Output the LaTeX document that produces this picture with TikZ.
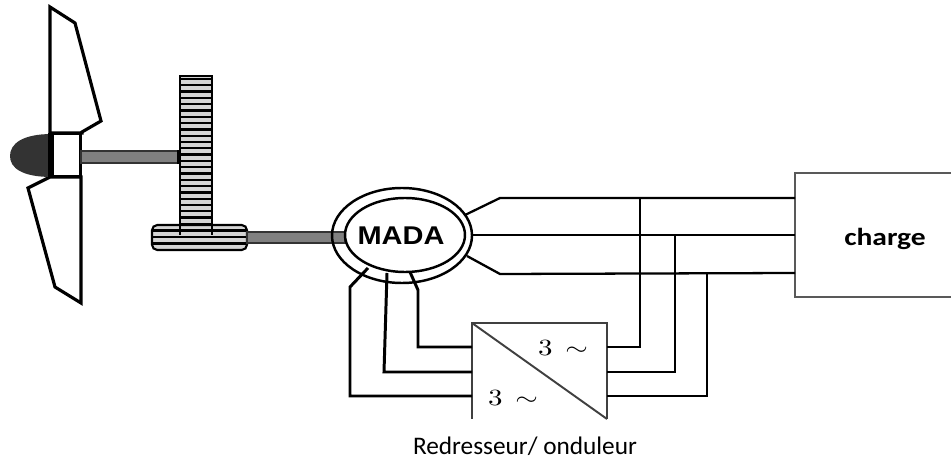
\documentclass[tikz,border=0pt]{standalone}
\usepackage{graphicx}
\usepackage{fontspec}
\newfontfamily\capfont{Carlito}
\newfontfamily\machinefont{Liberation Sans}
\usetikzlibrary{shapes.geometric}
\definecolor{shaftgray}{HTML}{808080}
\definecolor{stripegray}{HTML}{D4D4D4}
\definecolor{nosegray}{HTML}{333333}
\newcommand{\phaselabel}{\scalebox{1.65}[1.32]{$3\,\sim$}}
\begin{document}
\begin{tikzpicture}[x=0.02cm,y=-0.02cm,
  blade/.style={draw=black, line width=1.8pt, line join=miter, fill=white},
  shaft/.style={draw=black!80, line width=0.8pt, fill=shaftgray},
  wire/.style={draw=black, line width=1.3pt},
  tapwire/.style={draw=black, line width=1.7pt},
  boxline/.style={draw=black!75, line width=1.1pt},
  gearline/.style={draw=black, line width=1.2pt},
  lab/.style={inner sep=0pt, outer sep=0pt}]
\useasboundingbox (0,0) rectangle (951,459);

% ---- rotor: blades, hub and nose cone
\draw[blade] (50,7) -- (75,23) -- (101,121) -- (82,132) -- (82,133) -- (50,133) -- cycle;
\draw[blade] (50,177) -- (28,188) -- (55,287) -- (81,303) -- (81,177) -- cycle;
\fill[nosegray] (52,134) .. controls (22,134) and (10,144) .. (10,156)
                .. controls (10,168) and (22,177) .. (52,177) -- cycle;
\node[draw=black, line width=1.8pt, fill=white, minimum width=0.56cm, minimum height=0.86cm,
      inner sep=0pt] (hub) at (66.5,155) {};
\draw[black, line width=1.8pt] (50,133) -- (50,177);

% ---- low-speed shaft
\draw[shaft] (81,151) rectangle (180,163);
\fill[black] (177,150) rectangle (181,164);

% ---- gearbox: large wheel and pinion
\draw[gearline, fill=stripegray] (180,76) rectangle (212,225);
\foreach \k in {0,...,23} {
  \draw[black, line width=1.3pt] (180,{79+\k*6.3}) -- (212,{79+\k*6.3});
}
\draw[gearline, fill=stripegray, rounded corners=3] (152,225) rectangle (247,250);
\foreach \yy in {230.5,237,243.5} {
  \draw[black, line width=1.2pt] (153,\yy) -- (246,\yy);
}
\draw[gearline] (180,225) -- (180,235) (212,225) -- (212,235);

% ---- high-speed shaft
\draw[shaft] (247,232) rectangle (345,243);

% ---- generator
\draw[black, line width=1.4pt] (402,235.5) ellipse [x radius=70, y radius=47.5];
\draw[black, line width=1.4pt, fill=white] (405,235) ellipse [x radius=60, y radius=37];
\node[lab, anchor=base] (mada) at (401,245)
  {\scalebox{1.13}[1]{\machinefont\bfseries\fontsize{14.6pt}{16pt}\selectfont MADA}};

% stator terminals
\coordinate (s1) at (465,215);
\coordinate (s2) at (472,235);
\coordinate (s3) at (467,256);
% rotor terminals
\coordinate (r1) at (410,272);
\coordinate (r2) at (387,273);
\coordinate (r3) at (368,268);

% ---- load
\draw[boxline, draw=black!65] (960,173) -- (795,173) -- (795,297) -- (960,297);
\coordinate (load) at (795,235);
\node[lab, anchor=base] (charge) at (885,246)
  {\scalebox{1.2}[1]{\capfont\bfseries\fontsize{14pt}{16pt}\selectfont charge}};

% ---- converter
\draw[boxline] (472,419) -- (472,323) -- (607,323) -- (607,419);
\draw[boxline] (472,323) -- (607,419);
\coordinate (conv) at (539.5,371);
\node[lab] (acout) at (563,348) {\phaselabel};
\node[lab] (acin) at (513,398) {\phaselabel};
\node[lab, anchor=base] (caption) at (525,455)
  {\capfont\fontsize{14.4pt}{17pt}\selectfont Redresseur/ onduleur};

% ---- stator to load
\draw[wire] (s1) -- (500,198) -- (795,198);
\draw[wire] (s2) -- (795,235);
\draw[wire] (s3) -- (500,274) -- (795,273);

% ---- rotor to converter
\draw[tapwire] (r1) -- (418,290) -- (418,347) -- (472,347);
\draw[tapwire] (r2) -- (384,372) -- (472,372);
\draw[tapwire] (r3) -- (350,287) -- (350,396) -- (472,396);

% ---- converter to stator lines
\draw[tapwire] (607,347) -- (640,347) -- (640,198);
\draw[tapwire] (607,372) -- (675,372) -- (675,235);
\draw[tapwire] (607,396) -- (707,396) -- (707,273);
\end{tikzpicture}
\end{document}
